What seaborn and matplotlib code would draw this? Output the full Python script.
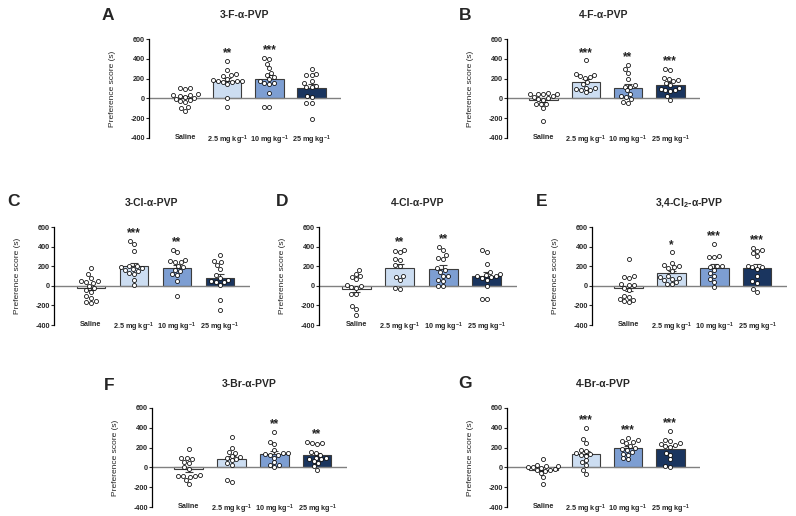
import numpy as np
import pandas as pd
import matplotlib
matplotlib.use("Agg")
import matplotlib.pyplot as plt
import seaborn as sns

sns.set_style("ticks")
plt.rcParams["font.family"] = ["Liberation Sans", "DejaVu Sans"]
plt.rcParams["axes.unicode_minus"] = False
plt.rcParams["mathtext.fontset"] = "custom"
plt.rcParams["mathtext.rm"] = "Liberation Sans"
plt.rcParams["mathtext.it"] = "Liberation Sans:italic"
plt.rcParams["mathtext.bf"] = "Liberation Sans:bold"
plt.rcParams["mathtext.default"] = "bf"

# ---------------- data ----------------
groups = ["Saline", "2.5 mg kg$^{-1}$", "10 mg kg$^{-1}$", "25 mg kg$^{-1}$"]
bar_colors = ["#ffffff", "#c6ddf7", "#6f9be0", "#0e336b"]
letters = ["A", "B", "C", "D", "E", "F", "G"]
titles = ["3-F-α-PVP", "4-F-α-PVP", "3-Cl-α-PVP", "4-Cl-α-PVP",
          "3,4-Cl$_2$-α-PVP", "3-Br-α-PVP", "4-Br-α-PVP"]

a_saline = [108, 90, 105, 30, 25, 5, 35, -20, -5, -30, -40, -85, -95, -125, 10, 40]
a_2p5 = [380, 290, 250, 235, 225, 200, 185, 175, 175, 170, 150, 180, 165, 5, -90]
a_10 = [410, 400, 350, 310, 260, 240, 220, 200, 180, 160, 155, 150, 50, -90, -90]
a_25 = [300, 250, 240, 240, 180, 160, 130, 120, 120, 20, 10, -50, -50, -210]
a_sig = ["", "**", "***", ""]

b_saline = [50, 45, 40, 45, 40, 10, 0, 20, -10, -20, -60, -60, -60, -100, -230]
b_2p5 = [385, 250, 240, 220, 225, 210, 170, 150, 110, 100, 90, 80, 80, 60]
b_10 = [340, 300, 260, 200, 140, 120, 120, 80, 40, 20, 10, -10, -40, -50]
b_25 = [300, 290, 210, 200, 190, 180, 160, 140, 110, 90, 80, 80, 70, 20, -15]
b_sig = ["", "***", "**", "***"]

c_saline = [185, 120, 80, 50, 50, 40, 30, 0, -20, -40, -60, -100, -120, -170, -180, -160]
c_2p5 = [460, 430, 360, 200, 200, 190, 180, 170, 160, 150, 130, 120, 60, 10]
c_10 = [370, 340, 260, 250, 240, 240, 200, 190, 160, 150, 110, 50, -100, 120]
c_25 = [310, 250, 240, 210, 170, 110, 80, 60, 50, 40, 40, 10, -140, -250]
c_sig = ["", "***", "**", ""]

d_saline = [160, 120, 100, 90, 70, 10, -10, -20, -80, -80, -210, -240, -300, 0]
d_2p5 = [370, 360, 340, 270, 260, 210, 200, 100, 90, 60, -20, -30]
d_10 = [400, 370, 310, 280, 270, 180, 160, 140, 100, 100, 60, 50, 0, 0]
d_25 = [365, 340, 220, 140, 120, 110, 100, 100, 90, 80, 60, 0, -130, -130]
d_sig = ["", "**", "**", ""]

e_saline = [270, 95, 90, 80, 20, 10, 10, -20, -40, -100, -110, -130, -140, -160, -170]
e_2p5 = [340, 230, 210, 200, 190, 180, 150, 100, 90, 80, 70, 60, 40, 20, 20]
e_10 = [430, 300, 290, 290, 200, 200, 190, 160, 130, 100, 70, 40, -10]
e_25 = [390, 370, 360, 330, 300, 200, 190, 190, 170, 100, 50, 30, -30, -60]
e_sig = ["", "*", "***", "***"]

f_saline = [190, 90, 80, 90, 50, 40, 0, -20, -90, -90, -90, -80, -100, -130, -170]
f_2p5 = [310, 200, 160, 150, 120, 110, 90, 80, 70, 40, 20, -130, -150]
f_10 = [360, 260, 240, 180, 150, 150, 140, 130, 130, 100, 50, 20, 20, 0]
f_25 = [260, 250, 250, 240, 160, 150, 130, 100, 100, 80, 80, 60, 40, 10, -30]
f_sig = ["", "", "**", "**"]

g_saline = [80, 20, 15, 10, 5, 0, -10, -20, -30, -30, -40, -60, -100, -170]
g_2p5 = [400, 290, 250, 180, 170, 150, 140, 130, 120, 70, 50, 20, -30, -70]
g_10 = [300, 280, 270, 260, 250, 220, 200, 190, 180, 160, 140, 130, 90, 80]
g_25 = [370, 280, 270, 250, 240, 230, 220, 210, 150, 130, 80, 10, 0]
g_sig = ["", "***", "***", "***"]

panels = [
    (a_saline, a_2p5, a_10, a_25, a_sig),
    (b_saline, b_2p5, b_10, b_25, b_sig),
    (c_saline, c_2p5, c_10, c_25, c_sig),
    (d_saline, d_2p5, d_10, d_25, d_sig),
    (e_saline, e_2p5, e_10, e_25, e_sig),
    (f_saline, f_2p5, f_10, f_25, f_sig),
    (g_saline, g_2p5, g_10, g_25, g_sig),
]

# ---------------- layout (pixels) ----------------
W, H = 796, 516
rects = [(149, 39, 341, 138), (507, 39, 700, 138),
         (54, 227, 250, 325), (319, 227, 517, 325), (592, 227, 787, 325),
         (152, 408, 347, 507), (507, 408, 700, 507)]
letter_pos = [(108, 15), (465, 15), (13, 201), (282, 201), (542, 201),
              (109, 385), (465, 384)]

fig = plt.figure(figsize=(W / 100, H / 100), dpi=100)

for k, (sal, g1, g2, g3, sig) in enumerate(panels):
    l, t, r, b = rects[k]
    ax = fig.add_axes([l / W, 1 - b / H, (r - l) / W, (b - t) / H])
    vals = [sal, g1, g2, g3]
    df = pd.DataFrame({
        "group": sum([[groups[i]] * len(v) for i, v in enumerate(vals)], []),
        "value": sum([list(v) for v in vals], []),
    })
    sns.barplot(data=df, x="group", y="value", order=groups, hue="group",
                hue_order=groups, palette=bar_colors, legend=False,
                errorbar=None, width=0.67, edgecolor="#3c3c3c",
                linewidth=0.8, ax=ax, zorder=1)
    ax.axhline(0, color="#808080", lw=1.0, zorder=1.5)
    stats = df.groupby("group", sort=False)["value"].agg(["mean", "sem"]).reindex(groups)
    for i, g in enumerate(groups):
        m, s = stats.loc[g, "mean"], stats.loc[g, "sem"]
        yerr = [[0], [s]] if m >= 0 else [[s], [0]]
        ax.errorbar(i, m, yerr=yerr, fmt="none", ecolor="#3c3c3c",
                    elinewidth=0.8, capsize=3, capthick=0.8, zorder=2)
    sns.swarmplot(data=df, x="group", y="value", order=groups, color="white",
                  edgecolor="black", linewidth=0.55, size=2.9, ax=ax, zorder=3)
    for i, s in enumerate(sig):
        if s:
            ax.text(i, max(vals[i]) + 45, s, ha="center", va="baseline",
                    fontsize=8.5, fontweight="bold", color="#222222")
    ax.set_xlim(-0.86, 3.7)
    ax.set_ylim(-400, 600)
    ax.set_yticks(range(-400, 601, 200))
    ax.set_xlabel("")
    ax.set_ylabel("Preference score (s)", fontsize=6, labelpad=10)
    for sp in ["top", "right", "bottom"]:
        ax.spines[sp].set_visible(False)
    ax.spines["left"].set_linewidth(0.9)
    ax.spines["left"].set_color("black")
    ax.tick_params(axis="y", labelsize=5.2, width=0.8, length=2, pad=1)
    ax.tick_params(axis="x", labelsize=5.2, length=0, pad=-3)
    for lbl in ax.get_yticklabels() + ax.get_xticklabels():
        lbl.set_fontweight("bold")
    fig.text(((l + r) / 2) / W, 1 - (t - 24) / H, titles[k], ha="center",
             va="center", fontsize=7.5, fontweight="bold")
    lx, ly = letter_pos[k]
    fig.text(lx / W, 1 - ly / H, letters[k], ha="center", va="center",
             fontsize=12.5, fontweight="bold")

fig.savefig("out.png", dpi=100, facecolor="white")
